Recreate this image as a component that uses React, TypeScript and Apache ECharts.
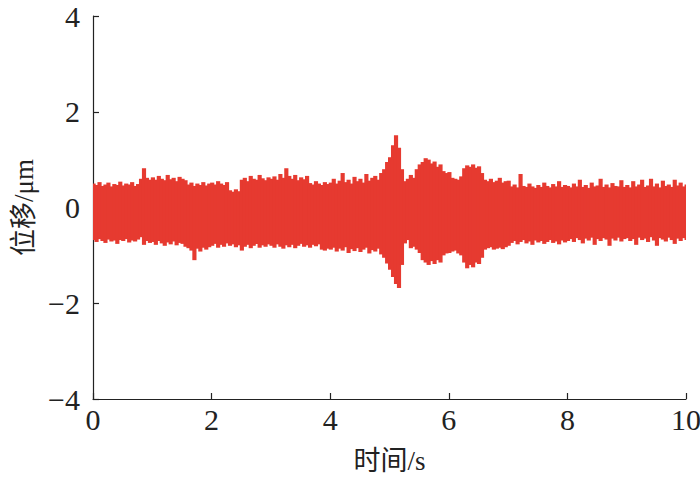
import React, { useEffect, useRef } from "react";
import * as echarts from "echarts";

// Sample times (s), 0.05 s apart
const times: number[] = Array.from({ length: 201 }, (_, i) => +(i * 0.05).toFixed(2));

// Upper envelope of displacement (μm)
const upper: number[] = [
  0.50,0.47,0.53,0.45,0.48,0.52,0.44,0.49,0.47,0.54,0.46,0.50,0.48,0.53,0.45,0.49,0.60,0.82,0.62,0.58,
  0.63,0.58,0.66,0.60,0.57,0.68,0.59,0.62,0.55,0.64,0.60,0.57,0.48,0.52,0.45,0.50,0.47,0.53,0.46,0.50,
  0.52,0.48,0.55,0.50,0.47,0.53,0.36,0.33,0.38,0.34,0.58,0.62,0.55,0.66,0.60,0.58,0.68,0.61,0.57,0.63,
  0.60,0.65,0.58,0.70,0.62,0.82,0.66,0.60,0.68,0.57,0.63,0.59,0.66,0.51,0.48,0.55,0.50,0.47,0.53,0.49,
  0.52,0.60,0.50,0.56,0.72,0.53,0.58,0.50,0.64,0.55,0.60,0.52,0.70,0.56,0.62,0.66,0.58,0.72,0.80,0.95,
  1.05,1.30,1.51,1.25,0.80,0.55,0.60,0.68,0.62,0.80,0.90,0.95,1.03,1.00,0.92,0.96,0.85,0.90,0.76,0.72,
  0.74,0.62,0.60,0.58,0.65,0.82,0.88,0.85,0.90,0.83,0.86,0.72,0.58,0.55,0.60,0.53,0.56,0.62,0.52,0.55,
  0.56,0.44,0.48,0.42,0.70,0.45,0.43,0.50,0.44,0.41,0.47,0.43,0.52,0.45,0.42,0.49,0.44,0.55,0.43,0.47,
  0.45,0.42,0.50,0.44,0.58,0.43,0.47,0.41,0.52,0.44,0.46,0.60,0.43,0.48,0.42,0.51,0.45,0.44,0.57,0.43,
  0.47,0.42,0.55,0.44,0.48,0.58,0.43,0.46,0.60,0.44,0.50,0.42,0.56,0.45,0.48,0.43,0.58,0.46,0.52,0.44,0.48,
];

// Lower envelope of displacement (μm)
const lower: number[] = [
  -0.68,-0.72,-0.66,-0.70,-0.74,-0.67,-0.71,-0.69,-0.76,-0.68,-0.70,-0.66,-0.73,-0.69,-0.71,-0.67,-0.62,-0.78,-0.70,-0.74,
  -0.72,-0.78,-0.70,-0.75,-0.80,-0.73,-0.77,-0.71,-0.79,-0.74,-0.76,-0.82,-0.85,-0.90,-1.10,-0.86,-0.92,-0.84,-0.88,-0.83,
  -0.80,-0.76,-0.84,-0.78,-0.82,-0.75,-0.80,-0.77,-0.83,-0.79,-0.90,-0.82,-0.78,-0.85,-0.80,-0.76,-0.84,-0.79,-0.82,-0.77,
  -0.80,-0.84,-0.77,-0.82,-0.86,-0.79,-0.83,-0.78,-0.85,-0.80,-0.76,-0.82,-0.79,-0.84,-0.78,-0.81,-0.77,-0.88,-0.90,-0.86,
  -0.88,-0.84,-0.92,-0.86,-0.90,-0.83,-0.95,-0.87,-0.91,-0.85,-0.93,-0.88,-0.84,-0.96,-0.89,-0.92,-0.86,-0.98,-1.05,-1.17,
  -1.30,-1.45,-1.60,-1.68,-1.20,-0.75,-0.68,-0.85,-0.82,-0.88,-0.95,-1.10,-1.15,-1.20,-1.12,-1.18,-1.10,-1.15,-1.00,-0.96,
  -0.95,-0.92,-0.90,-0.96,-1.00,-1.15,-1.27,-1.20,-1.25,-1.15,-1.18,-1.05,-0.88,-0.85,-0.83,-0.88,-0.86,-0.84,-0.87,-0.83,
  -0.80,-0.74,-0.70,-0.77,-0.72,-0.68,-0.75,-0.71,-0.78,-0.69,-0.73,-0.70,-0.76,-0.72,-0.68,-0.74,-0.71,-0.77,-0.69,-0.73,
  -0.70,-0.66,-0.72,-0.64,-0.68,-0.75,-0.65,-0.69,-0.63,-0.78,-0.66,-0.70,-0.64,-0.67,-0.80,-0.65,-0.69,-0.63,-0.71,-0.66,
  -0.64,-0.70,-0.66,-0.78,-0.63,-0.68,-0.65,-0.72,-0.62,-0.69,-0.80,-0.64,-0.67,-0.71,-0.63,-0.68,-0.76,-0.65,-0.70,-0.64,-0.68,
];

const xTicks = { min: 0, max: 10, interval: 2 };
const yTicks = { min: -4, max: 4, interval: 2 };

const SERIF = "Liberation Serif, DejaVu Serif, serif";
const CJK = "Liberation Serif, Noto Sans CJK SC, serif";
const RED = "#E63A30";

export default function App() {
  const ref = useRef<HTMLDivElement>(null);
  useEffect(() => {
    if (!ref.current) return;
    const chart = echarts.init(ref.current, undefined, { renderer: "svg" });
    const data = times.map((t, i) => [t, upper[i], lower[i]]);
    const half = 0.025;
    const num = { fontFamily: SERIF, fontSize: 30, color: "#222" };
    const ttl = { fontFamily: CJK, fontSize: 27, color: "#222" };
    chart.setOption({
      animation: false,
      backgroundColor: "#fff",
      grid: { left: 93, right: 14, top: 16, bottom: 83, outerBoundsMode: "none", containLabel: false },
      xAxis: {
        type: "value",
        min: xTicks.min,
        max: xTicks.max,
        interval: xTicks.interval,
        name: "时间/s",
        nameLocation: "middle",
        nameGap: 48,
        nameTextStyle: ttl,
        axisLine: { onZero: false, lineStyle: { color: "#222", width: 1.2 } },
        axisTick: { inside: true, length: 6, lineStyle: { color: "#222", width: 1.2 } },
        axisLabel: { ...num, margin: 5 },
        splitLine: { show: false },
      },
      yAxis: {
        type: "value",
        min: yTicks.min,
        max: yTicks.max,
        interval: yTicks.interval,
        name: "位移/μm",
        nameLocation: "middle",
        nameGap: 54,
        nameTextStyle: ttl,
        axisLine: { show: true, lineStyle: { color: "#222", width: 1.2 } },
        axisTick: { inside: true, length: 6, lineStyle: { color: "#222", width: 1.2 } },
        axisLabel: {
          ...num,
          margin: 13,
          formatter: (v: number) => String(v).replace("-", "\u2212"),
        },
        splitLine: { show: false },
      },
      series: [
        {
          type: "custom",
          clip: true,
          data,
          encode: { x: 0, y: [1, 2] },
          renderItem: (params: any, api: any) => {
            const t = api.value(0);
            const hi = api.value(1);
            const lo = api.value(2);
            const t0 = Math.max(xTicks.min, t - half);
            const t1 = Math.min(xTicks.max, t + half);
            const p0 = api.coord([t0, hi]);
            const p1 = api.coord([t1, lo]);
            const w = p1[0] - p0[0] + (t1 < xTicks.max ? 1.2 : 0);
            return {
              type: "rect",
              shape: { x: p0[0], y: p0[1], width: w, height: p1[1] - p0[1] },
              style: { fill: RED, stroke: null },
            };
          },
        },
      ],
    });
    return () => chart.dispose();
  }, []);
  return (
    <div
      ref={ref}
      style={{ position: "absolute", left: 0, top: 0, width: 700, height: 482 }}
    />
  );
}
